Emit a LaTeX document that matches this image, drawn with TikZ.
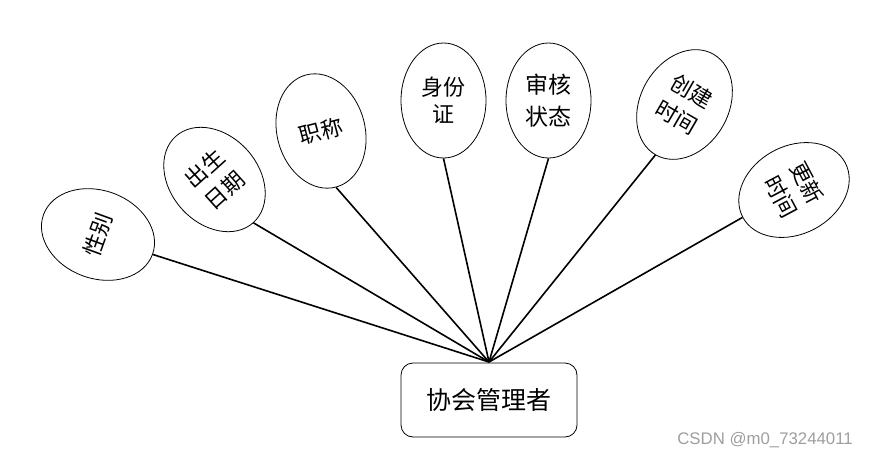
\documentclass[tikz,border=0pt]{standalone}
\usepackage{fontspec}
\setmainfont{Noto Sans CJK SC}
\newfontfamily\wmfont{Liberation Sans}
\usetikzlibrary{shapes.geometric}
\begin{document}
\begin{tikzpicture}[x=1pt,y=-1pt,
  attr/.style={ellipse,draw,line width=0.8pt,minimum width=88pt,minimum height=116pt,
    inner sep=0pt,align=center,font=\fontsize{22}{30}\selectfont},
  link/.style={line width=1.6pt},
  ent/.style={draw,rounded corners=12pt,minimum width=176pt,minimum height=74pt,
    line width=0.8pt,font=\fontsize{25}{30}\selectfont},
  wm/.style={text=black!38,font=\wmfont\fontsize{16.8}{18}\selectfont,inner sep=0pt}]
\useasboundingbox (0,0) rectangle (869,458);
\node[ent] (m) at (489,400) {协会管理者};
\coordinate (ap) at (489,362);
\node[attr,rotate=70] (a1) at (98,234.5) {性别};
\node[attr,rotate=42] (a2) at (214.5,179.5) {出生\\日期};
\node[attr,rotate=15] (a3) at (321,131) {职称};
\node[attr,minimum width=85pt,minimum height=115pt,font=\fontsize{22}{27}\selectfont] (a4) at (443.5,100.5) {身份\\证};
\node[attr,minimum width=85pt,minimum height=115pt,font=\fontsize{23}{32}\selectfont] (a5) at (548.5,100.5) {审核\\状态};
\node[attr,rotate=-30] (a6) at (684.5,104.5) {创建\\时间};
\node[attr,rotate=-62] (a7) at (794,190) {更新\\时间};
\foreach \n in {a1,a2,a3,a4,a5,a6,a7} \draw[link] (ap) -- (\n.south);
\node[wm,anchor=east] (w) at (853,440) {CSDN @m0\_73244011};
\end{tikzpicture}
\end{document}
